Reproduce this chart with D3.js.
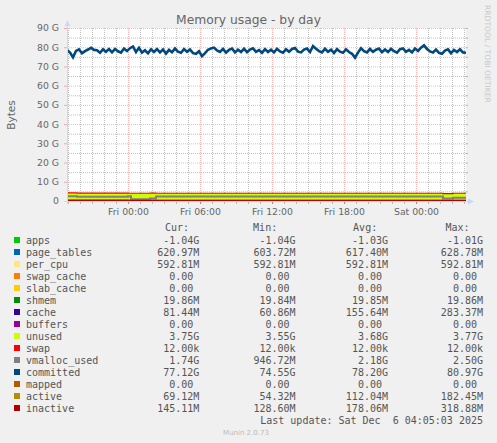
<!DOCTYPE html>
<html lang="en">
<head>
<meta charset="UTF-8">
<title>Memory usage - by day</title>
<script src="https://d3js.org/d3.v7.min.js"></script>
<style>
  html, body { margin: 0; padding: 0; background: #f0f0f0; }
  svg { display: block; }
  .legend text { font-family: "DejaVu Sans Mono", monospace; font-size: 10px; fill: #555; white-space: pre; }
  .axis text { font-family: "DejaVu Sans", sans-serif; font-size: 9.3px; fill: #666; }
</style>
</head>
<body>
<svg id="chart" width="497" height="443"></svg>
<script>
// time window of the graph (UTC, 5 minutes per pixel)
const startTime = "2025-12-04T18:55";
const endTime = "2025-12-06T04:10";

// committed, in G, read every 15 minutes from startTime
const committed = [
  78.6, 77.2, 74.8, 78.1, 78.9, 76.9, 78.0, 78.8, 79.7, 78.6,
  78.4, 77.1, 78.9, 77.6, 79.0, 77.3, 79.1, 77.9, 77.2, 79.3,
  78.0, 79.5, 80.4, 77.5, 79.7, 77.2, 78.4, 76.8, 78.9, 77.5,
  79.0, 77.3, 78.8, 76.7, 78.6, 77.4, 79.3, 77.7, 77.1, 79.0,
  77.6, 78.8, 76.9, 76.6, 77.9, 75.3, 76.9, 78.7, 79.4, 79.8,
  78.3, 77.5, 79.1, 77.2, 78.6, 79.3, 77.3, 78.7, 77.5, 79.2,
  77.4, 78.8, 79.4, 77.6, 78.5, 77.1, 79.0, 77.5, 78.7, 77.3,
  79.2, 77.8, 77.2, 78.9, 77.6, 79.1, 79.6, 77.7, 77.3, 78.8,
  79.3, 77.5, 80.6, 79.2, 78.0, 77.3, 79.2, 77.6, 78.7, 77.0,
  79.0, 77.7, 77.1, 78.9, 77.5, 76.6, 74.6, 77.2, 79.5, 77.9,
  77.3, 79.1, 77.6, 78.7, 79.3, 77.4, 78.8, 77.5, 79.2, 77.9,
  77.2, 79.0, 79.4, 77.6, 78.6, 77.3, 79.3, 78.1, 79.8, 80.97,
  79.1, 77.8, 77.3, 78.8, 77.1, 76.6, 78.2, 78.9, 76.9, 78.6,
  77.5, 78.9, 77.3, 77.12
];

// slow-changing series, in G, held from each step time on
const stepTimes = ["2025-12-04T18:55", "2025-12-04T19:45", "2025-12-05T00:00", "2025-12-05T00:15",
                   "2025-12-05T01:50", "2025-12-05T02:20", "2025-12-06T02:15", "2025-12-06T03:05"];
const apps        = [-1.01, -1.02, -1.03, -1.03, -1.03, -1.03, -1.04, -1.04];
const pageTables  = [0.604, 0.610, 0.615, 0.617, 0.618, 0.620, 0.625, 0.621];
const perCpu      = [0.593, 0.593, 0.593, 0.593, 0.593, 0.593, 0.593, 0.593];
const swapCache   = [0, 0, 0, 0, 0, 0, 0, 0];
const slabCache   = [0, 0, 0, 0, 0, 0, 0, 0];
const shmem       = [0.0198, 0.0198, 0.0199, 0.0199, 0.0199, 0.0199, 0.0199, 0.0199];
const cache       = [0.283, 0.20, 0.15, 0.061, 0.12, 0.16, 0.12, 0.081];
const buffers     = [0, 0, 0, 0, 0, 0, 0, 0];
const unused      = [3.70, 3.72, 3.68, 3.77, 3.75, 3.66, 3.55, 3.75];
const swap        = [0.000012, 0.000012, 0.000012, 0.000012, 0.000012, 0.000012, 0.000012, 0.000012];
const vmallocUsed = [2.50, 2.20, 2.45, 0.95, 1.25, 2.30, 1.30, 1.74];
const mapped      = [0, 0, 0, 0, 0, 0, 0, 0];
const active      = [0.182, 0.12, 0.10, 0.054, 0.10, 0.11, 0.10, 0.069];
const inactive    = [0.318, 0.20, 0.17, 0.129, 0.16, 0.18, 0.16, 0.145];

// legend
const legendNames  = ["apps", "page_tables", "per_cpu", "swap_cache", "slab_cache", "shmem", "cache", "buffers",
                      "unused", "swap", "vmalloc_used", "committed", "mapped", "active", "inactive"];
const legendColors = ["#00CC00", "#0066B3", "#FFE680", "#FF8000", "#FFCC00", "#008F00", "#330099", "#990099",
                      "#CCFF00", "#FF0000", "#808080", "#00487D", "#B35A00", "#B38F00", "#B30000"];
const curText = ["-1.04G", "620.97M", "592.81M", "0.00", "0.00", "19.86M", "81.44M", "0.00",
                 "3.75G", "12.00k", "1.74G", "77.12G", "0.00", "69.12M", "145.11M"];
const minText = ["-1.04G", "603.72M", "592.81M", "0.00", "0.00", "19.84M", "60.86M", "0.00",
                 "3.55G", "12.00k", "946.72M", "74.55G", "0.00", "54.32M", "128.60M"];
const avgText = ["-1.03G", "617.40M", "592.81M", "0.00", "0.00", "19.85M", "155.64M", "0.00",
                 "3.68G", "12.00k", "2.18G", "78.20G", "0.00", "112.04M", "178.06M"];
const maxText = ["-1.01G", "628.78M", "592.81M", "0.00", "0.00", "19.86M", "283.37M", "0.00",
                 "3.77G", "12.00k", "2.50G", "80.97G", "0.00", "182.45M", "318.88M"];
const yTicks = [0, 10, 20, 30, 40, 50, 60, 70, 80, 90];

const W = 497, H = 443;
const plot = { left: 67, right: 466, top: 28, bottom: 201 };
const parse = d3.utcParse("%Y-%m-%dT%H:%M");
const t0 = parse(startTime), t1 = parse(endTime);

const x = d3.scaleUtc().domain([t0, t1]).range([plot.left, plot.right]);
const y = d3.scaleLinear().domain([0, 90]).range([plot.bottom, plot.top]);

const svg = d3.select("#chart");
svg.append("rect").attr("width", W).attr("height", H).attr("fill", "#f0f0f0");
svg.append("rect")
    .attr("x", plot.left).attr("y", plot.top)
    .attr("width", plot.right - plot.left).attr("height", plot.bottom - plot.top)
    .attr("fill", "#ffffff");

const minorColor = "rgba(128,128,128,0.5)";
const majorColor = "rgba(255,0,0,0.3)";
const plotH = plot.bottom - plot.top;
const plotW = plot.right - plot.left;

function gridStyle(g, color) {
    g.select(".domain").remove();
    g.selectAll(".tick line").attr("stroke", color).attr("stroke-dasharray", "1,1");
}

// grid: minor every hour / 5 G, major every 6 hours / 10 G
svg.append("g").attr("transform", `translate(0,${plot.bottom})`)
    .call(d3.axisBottom(x).ticks(d3.utcHour.every(1))
        .tickValues(d3.utcHour.range(t0, t1).filter(d => d.getUTCHours() % 6 !== 0))
        .tickSize(-plotH).tickFormat(""))
    .call(g => gridStyle(g, minorColor));
svg.append("g").attr("transform", `translate(${plot.left},0)`)
    .call(d3.axisLeft(y).tickValues(d3.range(5, 90, 10)).tickSize(-plotW).tickFormat(""))
    .call(g => gridStyle(g, minorColor));
svg.append("g").attr("transform", `translate(0,${plot.bottom})`)
    .call(d3.axisBottom(x).ticks(d3.utcHour.every(6)).tickSize(-plotH).tickFormat(""))
    .call(g => gridStyle(g, majorColor));
svg.append("g").attr("transform", `translate(${plot.left},0)`)
    .call(d3.axisLeft(y).tickValues(yTicks).tickSize(-plotW).tickFormat(""))
    .call(g => gridStyle(g, majorColor));

// data
svg.append("clipPath").attr("id", "clip")
  .append("rect").attr("x", plot.left).attr("y", plot.top)
    .attr("width", plotW).attr("height", plotH + 1);
const data = svg.append("g").attr("clip-path", "url(#clip)");

const stackKeys = ["apps", "page_tables", "per_cpu", "swap_cache", "slab_cache", "shmem", "cache", "buffers", "unused", "swap"];
const stackSeries = [apps, pageTables, perCpu, swapCache, slabCache, shmem, cache, buffers, unused, swap];
const stepDates = stepTimes.map(parse).concat([t1]);
const rows = stepDates.map((t, i) => {
    const j = Math.min(i, stepTimes.length - 1);
    const r = { t: t };
    stackKeys.forEach((k, s) => { r[k] = stackSeries[s][j]; });
    return r;
});
const stacked = d3.stack().keys(stackKeys)(rows);

const area = d3.area()
    .curve(d3.curveStepAfter)
    .x(d => x(d.data.t))
    .y0(d => y(d[0]))
    .y1(d => y(d[1]));

data.selectAll("path.area")
    .data(stacked)
    .enter().append("path")
    .attr("class", "area")
    .attr("d", area)
    .attr("fill", d => legendColors[legendNames.indexOf(d.key)])
    .attr("stroke", d => d.key === "swap" ? legendColors[9] : "none")
    .attr("stroke-width", 1.2);

const stepLine = d3.line().curve(d3.curveStepAfter).x(d => x(d.t)).y(d => y(d.v));
function stepPoints(values) {
    return stepDates.map((t, i) => ({ t: t, v: values[Math.min(i, values.length - 1)] }));
}

data.append("path")
    .attr("d", stepLine(stepPoints(vmallocUsed)))
    .attr("fill", "none").attr("stroke", legendColors[10]).attr("stroke-width", 2);

const committedPts = committed.map((v, i) => ({ t: d3.utcMinute.offset(t0, 15 * i), v: v }));
data.append("path")
    .attr("d", d3.line().x(d => x(d.t)).y(d => y(d.v))(committedPts))
    .attr("fill", "none").attr("stroke", legendColors[11]).attr("stroke-width", 2.6)
    .attr("stroke-linejoin", "miter");

[[mapped, 12], [active, 13], [inactive, 14]].forEach(([vals, c]) => {
    data.append("path")
        .attr("d", stepLine(stepPoints(vals)))
        .attr("fill", "none").attr("stroke", legendColors[c]).attr("stroke-width", 2);
});

// axes with labels
const axisColor = "#CFD6F8";
const yAxis = svg.append("g").attr("class", "axis").attr("transform", `translate(${plot.left},0)`)
    .call(d3.axisLeft(y).tickValues(yTicks).tickSize(3).tickPadding(5)
        .tickFormat(d => d === 0 ? "0" : d + " G"));
yAxis.select(".domain").remove();
yAxis.selectAll(".tick line").attr("stroke", majorColor);

const yRight = svg.append("g").attr("transform", `translate(${plot.right},0)`)
    .call(d3.axisRight(y).tickValues(d3.range(0, 91, 5)).tickSize(2).tickFormat(""));
yRight.select(".domain").remove();
yRight.selectAll(".tick line").attr("stroke", minorColor);

const xMinor = svg.append("g").attr("transform", `translate(0,${plot.bottom})`)
    .call(d3.axisBottom(x).ticks(d3.utcHour.every(1)).tickSize(3).tickFormat(""));
xMinor.select(".domain").remove();
xMinor.selectAll(".tick line").attr("stroke", minorColor);

const xAxis = svg.append("g").attr("class", "axis").attr("transform", `translate(0,${plot.bottom})`)
    .call(d3.axisBottom(x).ticks(d3.utcHour.every(6)).tickSize(3).tickPadding(4.5)
        .tickFormat(d3.utcFormat("%a %H:%M")));
xAxis.select(".domain").remove();
xAxis.selectAll(".tick line").attr("stroke", majorColor);

// axis lines with arrows
svg.append("line").attr("x1", plot.left + 0.5).attr("x2", plot.left + 0.5)
    .attr("y1", plot.bottom + 3).attr("y2", 24).attr("stroke", axisColor);
svg.append("path").attr("d", `M${plot.left - 2.5},26 L${plot.left + 3.5},26 L${plot.left + 0.5},20 Z`).attr("fill", axisColor);
svg.append("line").attr("x1", plot.left - 3).attr("x2", plot.right + 4)
    .attr("y1", plot.bottom + 0.5).attr("y2", plot.bottom + 0.5).attr("stroke", axisColor);
svg.append("path").attr("d", `M${plot.right + 2},${plot.bottom - 2.5} L${plot.right + 2},${plot.bottom + 3.5} L${plot.right + 8},${plot.bottom + 0.5} Z`).attr("fill", axisColor);

// titles
svg.append("text").attr("x", 248.5).attr("y", 23.5).attr("text-anchor", "middle")
    .style("font-family", "DejaVu Sans, sans-serif").style("font-size", "12.3px").attr("fill", "#666")
    .text("Memory usage - by day");
svg.append("text").attr("transform", "translate(14.5,115) rotate(-90)").attr("text-anchor", "middle")
    .style("font-family", "DejaVu Sans, sans-serif").style("font-size", "10.5px").attr("fill", "#666")
    .text("Bytes");
svg.append("text").attr("transform", "translate(485,5) rotate(90)")
    .style("font-family", "DejaVu Sans, sans-serif").style("font-size", "7.6px").attr("fill", "#c8c8c8")
    .text("RRDTOOL / TOBI OETIKER");

// legend
const legend = svg.append("g").attr("class", "legend");
const charW = 6.02;
const headers = [["Cur:", 189], ["Min:", 277.2], ["Avg:", 377.2], ["Max:", 469.5]];
headers.forEach(([h, hx]) => {
    legend.append("text").attr("x", hx).attr("y", 231).attr("text-anchor", "end").text(h);
});
const valueCols = [[curText, 199.3], [minText, 295.6], [avgText, 388], [maxText, 483]];
legendNames.forEach((name, i) => {
    const by = 243.5 + 12 * i;
    legend.append("rect").attr("x", 14).attr("y", by - 6.5).attr("width", 6).attr("height", 6)
        .attr("fill", legendColors[i]);
    legend.append("text").attr("x", 26).attr("y", by).text(name);
    valueCols.forEach(([vals, cx]) => {
        const v = vals[i];
        const suffix = /[kMG]$/.test(v);
        legend.append("text").attr("x", suffix ? cx : cx - charW).attr("y", by)
            .attr("text-anchor", "end").text(v);
    });
});
legend.append("text").attr("x", 483).attr("y", 423.5).attr("text-anchor", "end")
    .attr("xml:space", "preserve").text("Last update: Sat Dec  6 04:05:03 2025");

svg.append("text").attr("x", 246).attr("y", 435).attr("text-anchor", "middle")
    .style("font-family", "DejaVu Sans, sans-serif").style("font-size", "7px").attr("fill", "#bbbbbb")
    .text("Munin 2.0.73");
</script>
</body>
</html>
